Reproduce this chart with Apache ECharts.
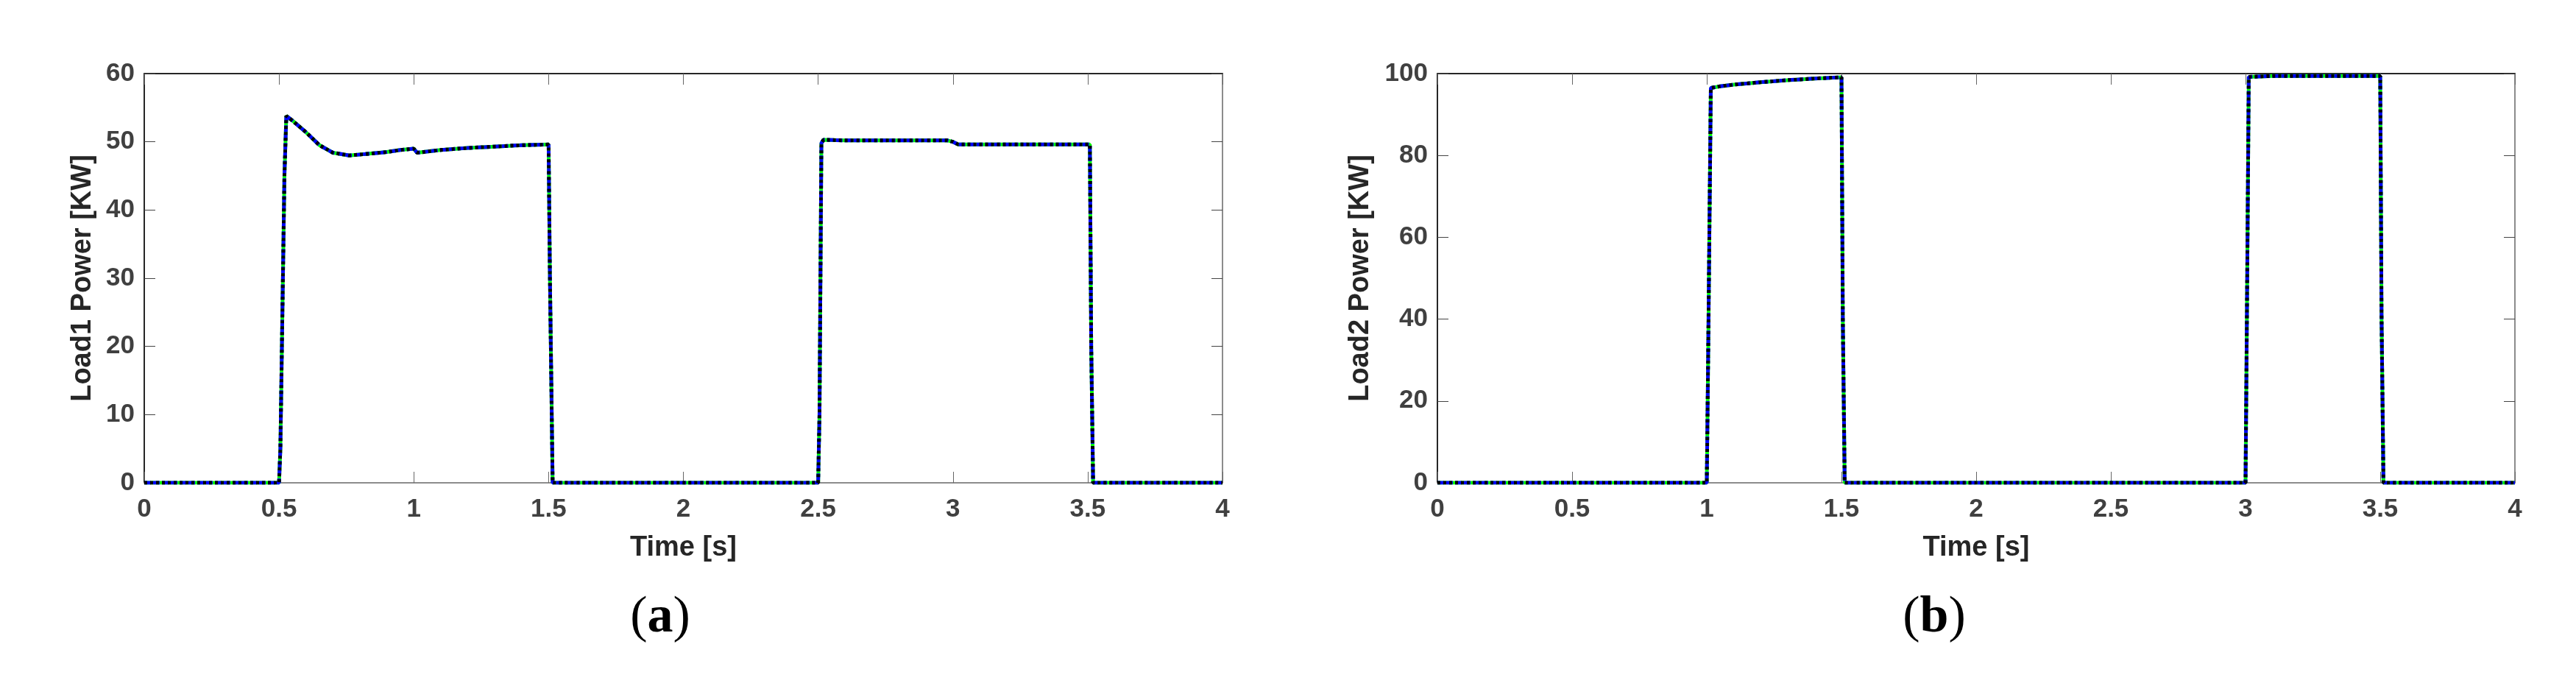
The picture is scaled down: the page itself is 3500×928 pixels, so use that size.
<!DOCTYPE html>
<html>
<head>
<meta charset="utf-8">
<script src="https://cdn.jsdelivr.net/npm/echarts@6/dist/echarts.min.js"></script>
<style>
  html, body { margin: 0; padding: 0; background: #fff; }
  #box { width: 3500px; height: 928px; }
</style>
</head>
<body>
<div id="box"></div>
<script>
// Load1 power (panel a), time in s, power in KW
var load1Time  = [0, 0.5, 0.505, 0.52, 0.527, 0.55, 0.6, 0.65, 0.7, 0.76, 0.82, 0.9, 0.95, 1.0, 1.012, 1.1, 1.2, 1.3, 1.4, 1.5, 1.505, 1.515, 2.5, 2.505, 2.512, 2.52, 2.6, 2.8, 2.98, 3.0, 3.02, 3.2, 3.4, 3.508, 3.513, 3.52, 4];
var load1Power = [0, 0, 5, 45, 53.8, 53.1, 51.4, 49.5, 48.4, 48.0, 48.2, 48.5, 48.8, 49.0, 48.4, 48.8, 49.1, 49.3, 49.5, 49.6, 30, 0, 0, 10, 49.8, 50.3, 50.2, 50.2, 50.2, 50.0, 49.6, 49.6, 49.6, 49.6, 20, 0, 0];

// Load2 power (panel b)
var load2Time  = [0, 1.0, 1.005, 1.015, 1.05, 1.1, 1.2, 1.3, 1.4, 1.5, 1.505, 1.512, 3.0, 3.005, 3.012, 3.1, 3.3, 3.5, 3.505, 3.512, 4];
var load2Power = [0, 0, 30, 96.5, 96.9, 97.3, 97.9, 98.4, 98.8, 99.1, 40, 0, 0, 40, 99.2, 99.4, 99.4, 99.4, 40, 0, 0];

var yLabels = ['Load1 Power [KW]', 'Load2 Power [KW]'];
var captions = ['a', 'b'];

function pairs(t, v) {
  return t.map(function (x, i) { return [x, v[i]]; });
}

var chart = echarts.init(document.getElementById('box'));
var font = 'Liberation Sans, Arial, sans-serif';

function xAxes(gi) {
  var base = {
    type: 'value', gridIndex: gi, min: 0, max: 4, interval: 0.5,
    splitLine: { show: false },
    axisTick: { inside: true, length: 15, lineStyle: { color: '#666', width: 1 } }
  };
  return [
    Object.assign({}, base, {
      position: 'bottom',
      name: 'Time [s]', nameLocation: 'middle', nameGap: 70,
      nameTextStyle: { fontSize: 38, fontWeight: 'bold', color: '#262626', fontFamily: font },
      axisLine: { onZero: false, lineStyle: { color: '#8c8c8c', width: 2 } },
      axisLabel: { fontSize: 35, fontWeight: 'bold', color: '#404040', fontFamily: font, margin: 19 }
    }),
    Object.assign({}, base, {
      position: 'top',
      axisLine: { onZero: false, lineStyle: { color: '#262626', width: 2 } },
      axisLabel: { show: false }
    })
  ];
}

function yAxes(gi, max, step, gap) {
  var base = {
    type: 'value', gridIndex: gi, min: 0, max: max, interval: step,
    splitLine: { show: false },
    axisTick: { inside: true, length: 15, lineStyle: { color: '#444', width: 1 } }
  };
  return [
    Object.assign({}, base, {
      position: 'left',
      name: yLabels[gi], nameLocation: 'middle', nameGap: gap, nameRotate: 90,
      nameTextStyle: { fontSize: 38, fontWeight: 'bold', color: '#262626', fontFamily: font },
      axisLine: { show: true, onZero: false, lineStyle: { color: '#262626', width: 2 } },
      axisLabel: { fontSize: 35, fontWeight: 'bold', color: '#404040', fontFamily: font, margin: 13 }
    }),
    Object.assign({}, base, {
      position: 'right',
      axisLine: { show: true, onZero: false, lineStyle: { color: '#8c8c8c', width: 2 } },
      axisLabel: { show: false }
    })
  ];
}

function traces(gi, data) {
  var styles = [
    { color: '#00ff00', type: 'solid' },
    { color: '#0000ff', type: [9, 3] },
    { color: '#000000', type: [4, 4] }
  ];
  return styles.map(function (s) {
    return {
      type: 'line', xAxisIndex: gi * 2, yAxisIndex: gi * 2,
      data: data, showSymbol: false, symbol: 'none',
      lineStyle: { color: s.color, type: s.type, width: 5 },
      animation: false
    };
  });
}

function caption(letter, cx) {
  return {
    type: 'text', x: cx, y: 840,
    style: {
      text: '{p|(}{b|' + letter + '}{p|)}',
      align: 'center', verticalAlign: 'middle',
      rich: {
        p: { fontSize: 70, fontWeight: 'normal', fontFamily: 'Liberation Serif, serif', fill: '#000', color: '#000' },
        b: { fontSize: 70, fontWeight: 'bold', fontFamily: 'Liberation Serif, serif', fill: '#000', color: '#000' }
      }
    }
  };
}

var option = {
  backgroundColor: '#fff',
  animation: false,
  graphic: [caption(captions[0], 897), caption(captions[1], 2628)],
  grid: [
    { left: 196, top: 100, width: 1465, height: 556 },
    { left: 1953, top: 100, width: 1464, height: 556 }
  ],
  xAxis: xAxes(0).concat(xAxes(1)),
  yAxis: yAxes(0, 60, 10, 64).concat(yAxes(1, 100, 20, 85)),
  series: traces(0, pairs(load1Time, load1Power)).concat(traces(1, pairs(load2Time, load2Power)))
};

chart.setOption(option);
</script>
</body>
</html>
